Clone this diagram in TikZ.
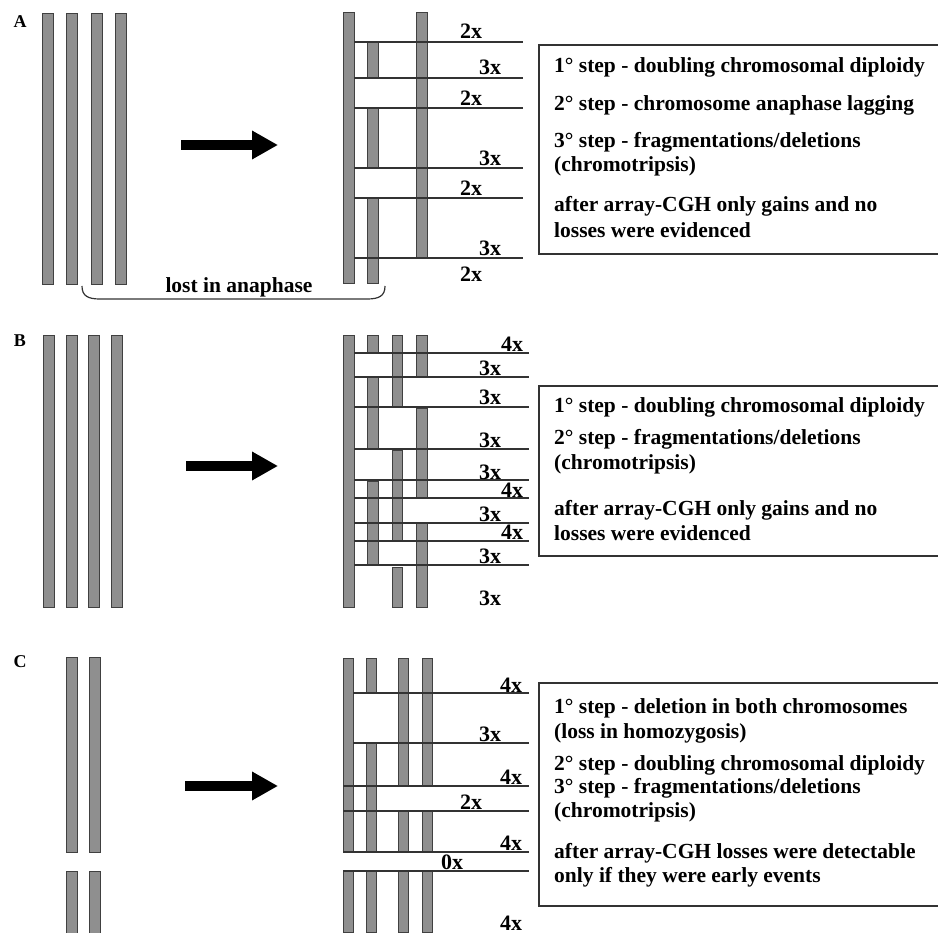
\documentclass[tikz,border=0pt]{standalone}
\usepackage{fontspec}
\setmainfont{Liberation Serif}
\usetikzlibrary{arrows.meta}
\definecolor{chromgray}{gray}{0.56}

\begin{document}
\begin{tikzpicture}[x=1pt, y=-1pt,
    chrom/.style={draw=black!75, fill=chromgray, line width=0.8pt},
    level/.style={draw=black!80, line width=1.2pt},
    copies/.style={font=\fontsize{22}{22}\selectfont\bfseries, inner sep=0pt, anchor=base west},
    steptext/.style={font=\fontsize{21.5}{24}\selectfont\bfseries, inner sep=0pt, anchor=base west},
    panel/.style={font=\fontsize{18}{18}\selectfont\bfseries, inner sep=0pt},
    fatarrow/.style={line width=10pt, -{Triangle[length=26pt,width=27pt]}},
    infobox/.style={draw=black!80, line width=1.2pt}]
  \useasboundingbox (0,0) rectangle (938,933);

  % panel A
  \node[panel] (labA) at (20,22) {A};
  \foreach \x in {42,66,91,115} \draw[chrom] (\x,13) rectangle ++(11,271);
  \coordinate (fromA) at (181,145);
  \coordinate (toA) at (278,145);
  \draw[fatarrow] (fromA) -- (toA);
  \draw[chrom] (343,12) rectangle (354,283);
  \foreach \a/\b in {42/78,108/168,198/283} \draw[chrom] (367,\a) rectangle (378,\b);
  \draw[chrom] (416,12) rectangle (427,258);
  \foreach \y in {42,78,108,168,198,258} \draw[level] (354,\y) -- (523,\y);
  \node[copies] (a1) at (460,39) {2x};
  \node[copies] (a2) at (479,75) {3x};
  \node[copies] (a3) at (460,106) {2x};
  \node[copies] (a4) at (479,166) {3x};
  \node[copies] (a5) at (460,196) {2x};
  \node[copies] (a6) at (479,256) {3x};
  \node[copies] (a7) at (460,282) {2x};
  \draw[line width=1.2pt, black!80] (82,286) .. controls (82,296) and (88,299) .. (100,299)
    -- (367,299) .. controls (379,299) and (385,296) .. (385,286);
  \node[font=\fontsize{21.5}{24}\selectfont\bfseries, inner sep=0pt, anchor=base] (lost) at (239,293) {lost in anaphase};
  \draw[infobox] (539,45) rectangle (950,254);
  \node[steptext] (sA1) at (554,73) {1° step - doubling chromosomal diploidy};
  \node[steptext] (sA2) at (554,111) {2° step - chromosome anaphase lagging};
  \node[steptext] (sA3) at (554,148) {3° step - fragmentations/deletions};
  \node[steptext] (sA4) at (554,172) {(chromotripsis)};
  \node[steptext] (sA5) at (554,212) {after array-CGH only gains and no};
  \node[steptext] (sA6) at (554,238) {losses were evidenced};

  % panel B
  \node[panel] (labB) at (20,341) {B};
  \foreach \x in {43,66,88,111} \draw[chrom] (\x,335) rectangle ++(11,272);
  \coordinate (fromB) at (186,466);
  \coordinate (toB) at (278,466);
  \draw[fatarrow] (fromB) -- (toB);
  \draw[chrom] (343,335) rectangle (354,607);
  \foreach \a/\b in {335/353,377/449,481/565} \draw[chrom] (367,\a) rectangle (378,\b);
  \foreach \a/\b in {335/407,450/541,567/607} \draw[chrom] (392,\a) rectangle (402,\b);
  \foreach \a/\b in {335/377,408/498,523/607} \draw[chrom] (416,\a) rectangle (427,\b);
  \foreach \y in {353,377,407,449,480,498,523,541,565} \draw[level] (354,\y) -- (529,\y);
  \node[copies] (b1) at (501,352) {4x};
  \node[copies] (b2) at (479,376) {3x};
  \node[copies] (b3) at (479,405) {3x};
  \node[copies] (b4) at (479,448) {3x};
  \node[copies] (b5) at (479,479) {3x};
  \node[copies] (b6) at (501,497) {4x};
  \node[copies] (b7) at (479,521) {3x};
  \node[copies] (b8) at (501,539) {4x};
  \node[copies] (b9) at (479,563) {3x};
  \node[copies] (b10) at (479,605) {3x};
  \draw[infobox] (539,386) rectangle (950,556);
  \node[steptext] (sB1) at (554,413) {1° step - doubling chromosomal diploidy};
  \node[steptext] (sB2) at (554,445) {2° step - fragmentations/deletions};
  \node[steptext] (sB3) at (554,469) {(chromotripsis)};
  \node[steptext] (sB4) at (554,515) {after array-CGH only gains and no};
  \node[steptext] (sB5) at (554,540) {losses were evidenced};

  % panel C
  \node[panel] (labC) at (20,662) {C};
  \foreach \x in {66,89} {
    \draw[chrom] (\x,657) rectangle ++(11,195);
    \draw[chrom] (\x,871) rectangle ++(11,62);
  }
  \coordinate (fromC) at (185,786);
  \coordinate (toC) at (278,786);
  \draw[fatarrow] (fromC) -- (toC);
  \foreach \a/\b in {658/852,871/932} \draw[chrom] (343,\a) rectangle (353,\b);
  \foreach \a/\b in {658/693,743/852,871/932} \draw[chrom] (366,\a) rectangle (376,\b);
  \foreach \x in {398,422}
    \foreach \a/\b in {658/786,811/852,871/932} \draw[chrom] (\x,\a) rectangle ++(10,\b-\a);
  \foreach \y in {693,743} \draw[level] (353,\y) -- (529,\y);
  \foreach \y in {786,811,852,871} \draw[level] (343,\y) -- (529,\y);
  \node[copies] (c1) at (500,692) {4x};
  \node[copies] (c2) at (479,741) {3x};
  \node[copies] (c3) at (500,784) {4x};
  \node[copies] (c4) at (460,809) {2x};
  \node[copies] (c5) at (500,850) {4x};
  \node[copies] (c6) at (441,869) {0x};
  \node[copies] (c7) at (500,930) {4x};
  \draw[infobox] (539,683) rectangle (950,906);
  \node[steptext] (sC1) at (554,713) {1° step - deletion in both chromosomes};
  \node[steptext] (sC2) at (554,738) {(loss in homozygosis)};
  \node[steptext] (sC3) at (554,770) {2° step - doubling chromosomal diploidy};
  \node[steptext] (sC4) at (554,793) {3° step - fragmentations/deletions};
  \node[steptext] (sC5) at (554,817) {(chromotripsis)};
  \node[steptext] (sC6) at (554,858) {after array-CGH losses were detectable};
  \node[steptext] (sC7) at (554,882) {only if they were early events};
\end{tikzpicture}
\end{document}
